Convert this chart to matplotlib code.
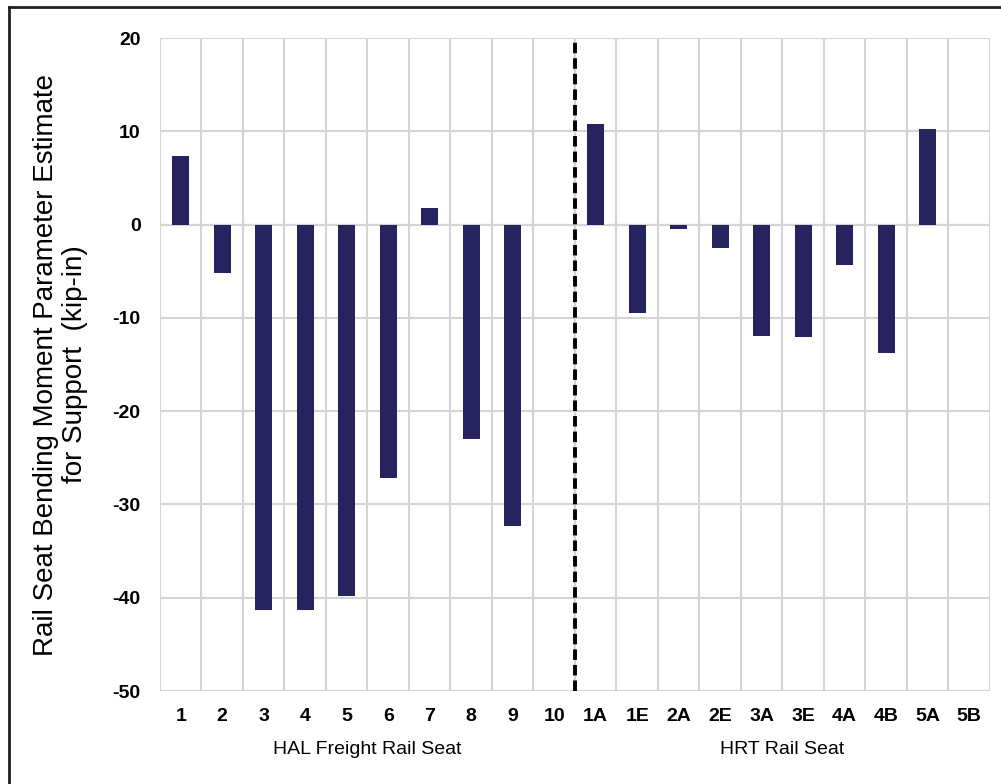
import matplotlib
matplotlib.use("Agg")
import matplotlib.pyplot as plt
import matplotlib.transforms as mtransforms
from matplotlib.lines import Line2D
import numpy as np

plt.rcParams['font.family'] = ['Liberation Sans', 'DejaVu Sans']

hal_seats = ['1', '2', '3', '4', '5', '6', '7', '8', '9', '10']
hal_values = [7.4, -5.2, -41.3, -41.3, -39.8, -27.2, 1.8, -23.0, -32.3, 0.0]
hrt_seats = ['1A', '1E', '2A', '2E', '3A', '3E', '4A', '4B', '5A', '5B']
hrt_values = [10.8, -9.5, -0.45, -2.5, -11.9, -12.0, -4.3, -13.8, 10.25, 0.0]

group_names = ['HAL Freight Rail Seat', 'HRT Rail Seat']
y_ticks = [20, 10, 0, -10, -20, -30, -40, -50]

labels = hal_seats + hrt_seats
values = hal_values + hrt_values
x = np.arange(len(labels))

bar_color = '#26235e'
grid_color = '#d4d4d4'

fig = plt.figure(figsize=(10.01, 7.84), dpi=100)
ax = fig.add_axes([0.1598, 0.1186, 0.8292, 0.8329])

ax.bar(x, values, width=0.4, color=bar_color, zorder=3)

ax.set_xlim(-0.5, len(labels) - 0.5)
ax.set_ylim(-50, 20)

# grid: horizontal at tick values, vertical at category boundaries
ax.set_yticks(y_ticks)
ax.set_xticks(x)
ax.set_xticks(np.arange(-0.5, len(labels)), minor=True)
ax.grid(True, axis='y', which='major', color=grid_color, linewidth=1.5, zorder=0)
ax.grid(True, axis='x', which='minor', color=grid_color, linewidth=1.5, zorder=0)
ax.axhline(0, color='#b5b5b5', linewidth=1.5, zorder=1)

for s in ax.spines.values():
    s.set_visible(False)

ax.tick_params(axis='both', which='both', length=0)
ax.tick_params(axis='y', pad=14, labelsize=14)
ax.tick_params(axis='x', pad=12, labelsize=14)
ax.set_xticklabels(labels, fontweight='bold')
ax.set_yticklabels([str(v) for v in y_ticks], fontweight='bold')

# separator between the two groups
ax.axvline(len(hal_seats) - 0.5, color='black', linewidth=2.8,
           linestyle=(0, (2.7, 1.3)), zorder=4)

ax.set_ylabel('Rail Seat Bending Moment Parameter Estimate\nfor Support  (kip-in)',
              fontsize=20, linespacing=1.15)
ax.yaxis.set_label_coords(-0.087, 0.5)

trans = mtransforms.blended_transform_factory(ax.transData, ax.transAxes)
ax.text((len(hal_seats) - 1) / 2, -0.09, group_names[0], transform=trans,
        ha='center', va='center', fontsize=14)
ax.text(len(hal_seats) + (len(hrt_seats) - 1) / 2, -0.09, group_names[1],
        transform=trans, ha='center', va='center', fontsize=14)

# figure frame (top and left edges)
fig.add_artist(Line2D([8.5 / 1001, 1.0], [1 - 7 / 784, 1 - 7 / 784],
                      transform=fig.transFigure, color='#231f20', linewidth=2))
fig.add_artist(Line2D([8.5 / 1001, 8.5 / 1001], [0.0, 1 - 7 / 784],
                      transform=fig.transFigure, color='#231f20', linewidth=2))

fig.savefig('out.png', dpi=100, facecolor='white')
